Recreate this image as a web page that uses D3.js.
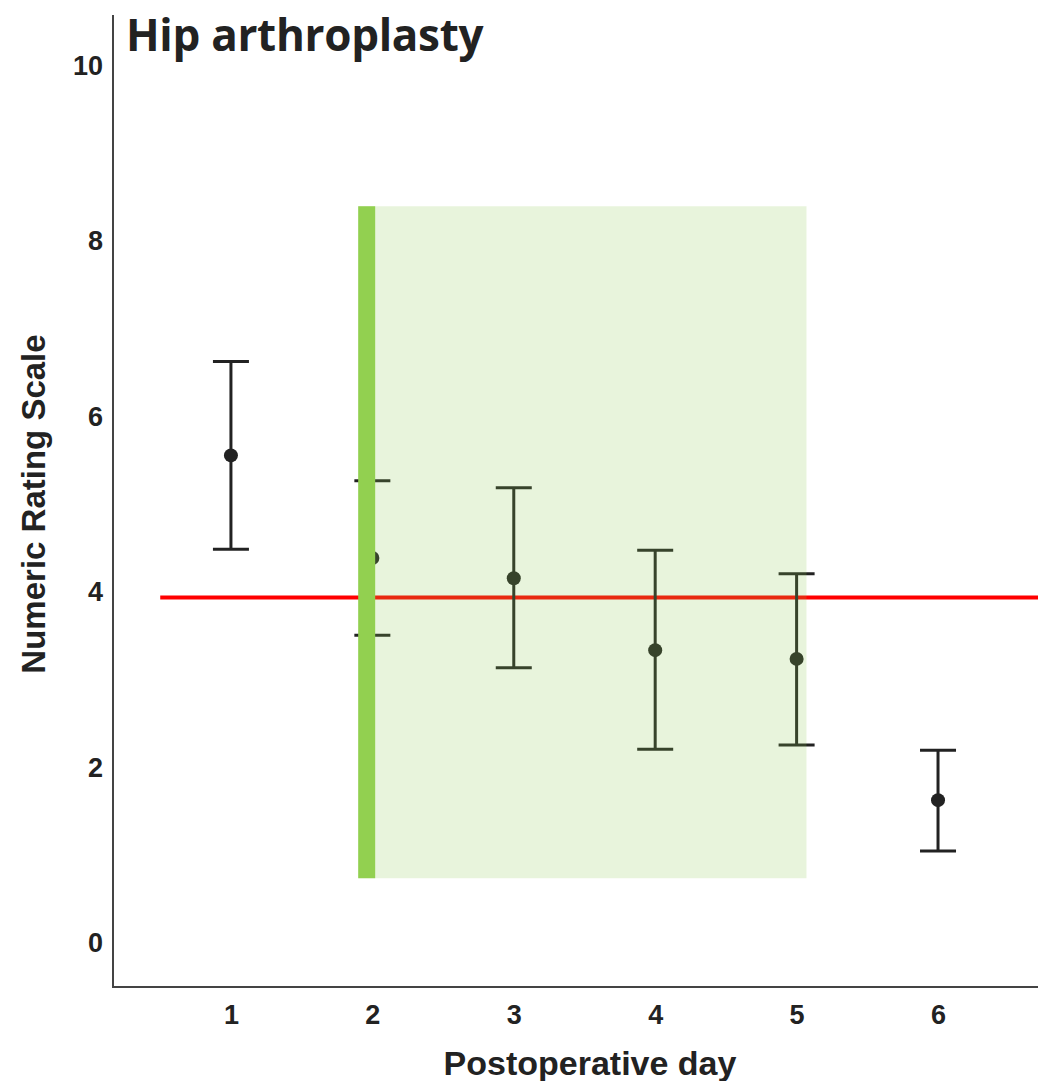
<!DOCTYPE html>
<html><head><meta charset="utf-8">
<script src="https://cdn.jsdelivr.net/npm/d3@7"></script>
<style>body{margin:0;background:#fff}svg{display:block}</style>
</head><body>
<script>
const days = [1, 2, 3, 4, 5, 6];
const means = [5.56, 4.39, 4.16, 3.34, 3.24, 1.63];
const upper = [6.63, 5.27, 5.19, 4.48, 4.21, 2.20];
const lower = [4.49, 3.51, 3.14, 2.21, 2.26, 1.05];
const yTicks = [0, 2, 4, 6, 8, 10];
const refLine = 3.94;
const shade = {x0: 1.9, x1: 5.07, y0: 0.74, y1: 8.40};
const barEnd = 2.02;

const W = 1038, H = 1081;
const svg = d3.select("body").append("svg").attr("width", W).attr("height", H);
const x = d3.scaleLinear().domain([0.166, 6.707]).range([113, 1038]);
const y = d3.scaleLinear().domain([-0.5, 10.58]).range([987, 15]);

// red reference line
svg.append("line").attr("x1", x(0.5)).attr("x2", W).attr("y1", y(refLine)).attr("y2", y(refLine))
  .attr("stroke", "#ff0000").attr("stroke-width", 4);

// error bars
const g = svg.append("g");
days.forEach((d, i) => {
  const cx = x(d);
  g.append("line").attr("x1", cx).attr("x2", cx).attr("y1", y(upper[i])).attr("y2", y(lower[i]))
    .attr("stroke", "#222").attr("stroke-width", 3);
  [upper[i], lower[i]].forEach(v => {
    g.append("line").attr("x1", cx - 18).attr("x2", cx + 18).attr("y1", y(v)).attr("y2", y(v))
      .attr("stroke", "#222").attr("stroke-width", 3);
  });
  g.append("circle").attr("cx", cx).attr("cy", y(means[i])).attr("r", 7).attr("fill", "#222");
});

// shaded region
svg.append("rect").attr("x", x(shade.x0)).attr("y", y(shade.y1))
  .attr("width", x(shade.x1) - x(shade.x0)).attr("height", y(shade.y0) - y(shade.y1))
  .attr("fill", "#8cc850").attr("fill-opacity", 0.2);
svg.append("rect").attr("x", x(shade.x0)).attr("y", y(shade.y1))
  .attr("width", x(barEnd) - x(shade.x0)).attr("height", y(shade.y0) - y(shade.y1))
  .attr("fill", "#92d050");

// axes
svg.append("line").attr("x1", 113).attr("x2", 113).attr("y1", 15).attr("y2", 987)
  .attr("stroke", "#444").attr("stroke-width", 2);
svg.append("line").attr("x1", 112).attr("x2", W).attr("y1", 987).attr("y2", 987)
  .attr("stroke", "#444").attr("stroke-width", 2);

const yAxis = svg.append("g").attr("transform", "translate(113,0)")
  .call(d3.axisLeft(y).tickValues(yTicks).tickSize(0).tickPadding(10).tickFormat(d3.format("d")));
const xAxis = svg.append("g").attr("transform", "translate(0,987)")
  .call(d3.axisBottom(x).tickValues(days).tickSize(0).tickPadding(18).tickFormat(d3.format("d")));
[yAxis, xAxis].forEach(a => {
  a.select(".domain").remove();
  a.selectAll("text").attr("font-family", "Liberation Sans, Arial, sans-serif")
    .attr("font-weight", "bold").attr("font-size", 27).attr("fill", "#222");
});

// titles
svg.append("text").attr("x", 126).attr("y", 51).text("Hip arthroplasty")
  .attr("font-family", "Open Sans, sans-serif").attr("font-weight", "bold")
  .attr("font-size", 44).attr("fill", "#222").attr("letter-spacing", -0.3);
svg.append("text").attr("transform", "translate(45,504) rotate(-90)").attr("text-anchor", "middle")
  .text("Numeric Rating Scale").attr("font-family", "Liberation Sans, Arial, sans-serif")
  .attr("font-weight", "bold").attr("font-size", 33).attr("fill", "#222");
svg.append("text").attr("x", 590).attr("y", 1075).attr("text-anchor", "middle")
  .text("Postoperative day").attr("font-family", "Liberation Sans, Arial, sans-serif")
  .attr("font-weight", "bold").attr("font-size", 34).attr("fill", "#222");
</script>
</body></html>
